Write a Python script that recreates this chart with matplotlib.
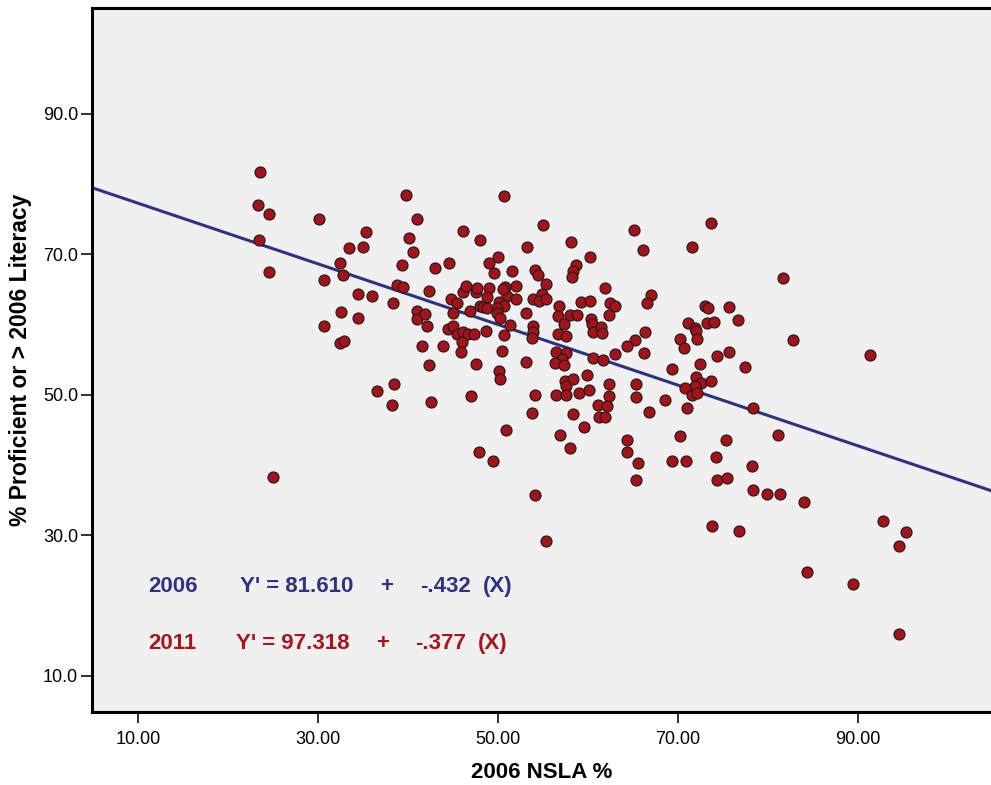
import numpy as np
import matplotlib
matplotlib.use("Agg")
import matplotlib.pyplot as plt

plt.rcParams["font.family"] = ["Liberation Sans", "DejaVu Sans"]

# 2006 NSLA % vs % proficient
nsla = [23.6, 23.3, 24.6, 30.1, 23.4, 24.6, 35.3, 33.5, 35.0, 32.4, 32.8, 30.7, 34.4, 36.0, 38.3,
        32.6, 34.4, 30.7, 39.8, 41.0, 40.1, 40.6, 39.3, 38.8, 39.4, 41.0, 41.0, 32.4, 32.9, 41.6,
        38.4, 36.6, 38.2, 25.0, 50.7, 46.1, 48.0, 55.0, 58.1, 53.2, 60.2, 43.0, 44.6, 49.0, 50.0,
        49.6, 51.6, 54.1, 54.5, 58.7, 58.3, 58.2, 42.3, 46.1, 46.4, 47.6, 47.7, 49.0, 48.8, 50.8,
        51.0, 50.6, 52.0, 52.0, 53.9, 54.9, 54.6, 55.4, 55.3, 44.8, 45.5, 48.0, 48.3, 48.8, 50.1,
        50.7, 49.9, 49.9, 50.2, 46.9, 45.0, 41.9, 42.1, 44.4, 45.0, 45.4, 46.1, 46.7, 47.3, 48.7,
        50.7, 51.3, 53.1, 53.9, 53.9, 56.8, 56.7, 57.3, 56.7, 57.6, 58.0, 58.8, 59.2, 60.2, 60.4,
        60.5, 60.6, 61.5, 53.8, 43.9, 46.0, 45.9, 42.3, 47.6, 50.4, 50.1, 50.2, 53.1, 56.5, 57.6,
        57.1, 56.3, 57.4, 60.6, 59.9, 57.5, 58.4, 57.6, 56.5, 57.6, 59.0, 60.1, 61.1, 61.2, 58.4,
        59.6, 56.9, 58.0, 54.1, 53.8, 50.9, 47.0, 42.6, 47.9, 49.4, 54.1, 55.4, 65.1, 73.7, 66.1,
        71.6, 61.9, 67.0, 66.6, 62.5, 63.0, 62.4, 61.6, 73.0, 73.4, 75.7, 76.7, 71.1, 71.9, 72.0,
        73.2, 74.0, 70.2, 70.7, 72.1, 66.3, 65.2, 64.4, 66.2, 63.0, 61.7, 69.4, 72.5, 74.4, 75.7,
        77.5, 72.0, 72.6, 73.7, 71.9, 70.8, 71.6, 62.4, 65.4, 62.4, 65.3, 68.6, 62.1, 61.9, 66.8,
        71.0, 72.1, 78.4, 81.1, 64.3, 64.3, 65.6, 65.3, 70.2, 69.3, 70.9, 75.3, 74.2, 74.3, 75.5,
        78.2, 78.4, 79.9, 81.3, 73.8, 76.8, 81.7, 82.8, 91.4, 84.0, 92.8, 95.3, 94.6, 84.3, 89.5,
        94.6]
proficient = [81.8, 77.1, 75.7, 75.1, 72.1, 67.5, 73.2, 70.9, 71.1, 68.8, 67.1, 66.4, 64.3, 64.1, 63.1,
              61.8, 61.0, 59.8, 78.5, 75.0, 72.4, 70.3, 68.5, 65.7, 65.4, 61.9, 60.8, 57.4, 57.7, 56.9,
              51.6, 50.6, 48.6, 38.3, 78.3, 73.4, 72.0, 74.2, 71.7, 71.0, 69.6, 68.1, 68.7, 68.7, 69.6,
              67.4, 67.7, 67.8, 67.1, 68.5, 67.7, 66.8, 64.8, 64.7, 65.5, 64.7, 65.2, 65.2, 63.9, 65.4,
              64.0, 65.0, 65.5, 63.7, 63.7, 64.3, 63.4, 63.7, 65.8, 63.7, 63.0, 62.7, 62.5, 62.4, 63.2,
              62.6, 62.4, 61.6, 61.0, 61.9, 61.7, 61.5, 59.8, 59.3, 59.8, 58.7, 58.9, 58.6, 58.6, 59.1,
              58.5, 59.9, 61.6, 59.8, 59.0, 62.7, 61.2, 60.1, 58.7, 58.3, 61.4, 61.3, 63.2, 63.3, 60.8,
              60.1, 59.0, 59.6, 58.1, 56.9, 57.5, 56.1, 54.2, 54.4, 56.2, 53.4, 52.3, 54.7, 56.1, 55.9,
              55.1, 54.5, 54.2, 55.2, 52.8, 51.9, 52.2, 51.2, 50.0, 50.0, 50.2, 50.7, 48.5, 46.9, 47.2,
              45.4, 44.2, 42.4, 49.9, 47.4, 45.0, 49.8, 49.0, 41.9, 40.5, 35.7, 29.2, 73.5, 74.4, 70.6,
              71.1, 65.2, 64.2, 63.1, 63.1, 62.6, 61.4, 58.8, 62.7, 62.4, 62.5, 60.7, 60.2, 59.5, 59.1,
              60.2, 60.4, 57.9, 56.6, 58.0, 59.0, 57.8, 57.0, 55.9, 55.8, 55.0, 53.7, 54.4, 55.5, 56.1,
              53.9, 52.5, 51.7, 52.0, 51.2, 50.9, 50.0, 51.6, 51.6, 49.8, 49.7, 49.3, 48.4, 46.8, 47.6,
              48.1, 50.2, 48.1, 44.3, 43.6, 41.8, 40.3, 37.8, 44.1, 40.5, 40.5, 43.5, 41.1, 37.8, 38.1,
              39.9, 36.4, 35.8, 35.8, 31.3, 30.6, 66.7, 57.8, 55.6, 34.7, 32.0, 30.5, 28.4, 24.7, 23.1,
              15.9]

fit_2006 = (81.610, -0.432)
x_ticks = [10, 30, 50, 70, 90]
y_ticks = [10, 30, 50, 70, 90]

BLUE = "#2f3184"
RED = "#a8161b"

fig = plt.figure(figsize=(9.91, 7.85), dpi=100)
ax = fig.add_axes([92 / 991, 73 / 785, 899 / 991, 704 / 785])
ax.set_facecolor("#f0f0f0")

ax.scatter(nsla, proficient, s=62, c="#a5121a", edgecolors="#2a1a1a", linewidths=0.9, zorder=3)

xlim = (4.89, 104.8)
xs = np.array(xlim)
ax.plot(xs, fit_2006[0] + fit_2006[1] * xs, color=BLUE, lw=2.2, zorder=2)

ax.set_xlim(*xlim)
ax.set_ylim(4.8, 105.1)
ax.set_xticks(x_ticks)
ax.set_xticklabels([f"{v:.2f}" for v in x_ticks])
ax.set_yticks(y_ticks)
ax.set_yticklabels([f"{v:.1f}" for v in y_ticks])
ax.tick_params(axis="both", labelsize=13, width=1.3, length=8, color="#222222")
ax.tick_params(axis="x", pad=6)
ax.tick_params(axis="y", pad=2)

for side in ["left", "bottom", "top"]:
    ax.spines[side].set_linewidth(2.2)
ax.spines["right"].set_visible(False)

ax.set_xlabel("2006 NSLA %", fontsize=16, fontweight="bold", labelpad=10)
ax.set_ylabel("% Proficient or > 2006 Literacy", fontsize=16.5, fontweight="bold", labelpad=8)

# regression equations
rows = [
    (0.171, BLUE, ["2006", "Y' = 81.610", "+", "-.432", "(X)"], [0.0623, 0.1646, 0.320, 0.365, 0.435]),
    (0.0895, RED, ["2011", "Y' = 97.318", "+", "-.377", "(X)"], [0.0623, 0.160, 0.316, 0.359, 0.429]),
]
for y, col, parts, xpos in rows:
    for txt, x in zip(parts, xpos):
        ax.text(x, y, txt, transform=ax.transAxes, color=col, fontsize=16,
                fontweight="bold", va="baseline", ha="left")

fig.savefig("out.png", dpi=100)
